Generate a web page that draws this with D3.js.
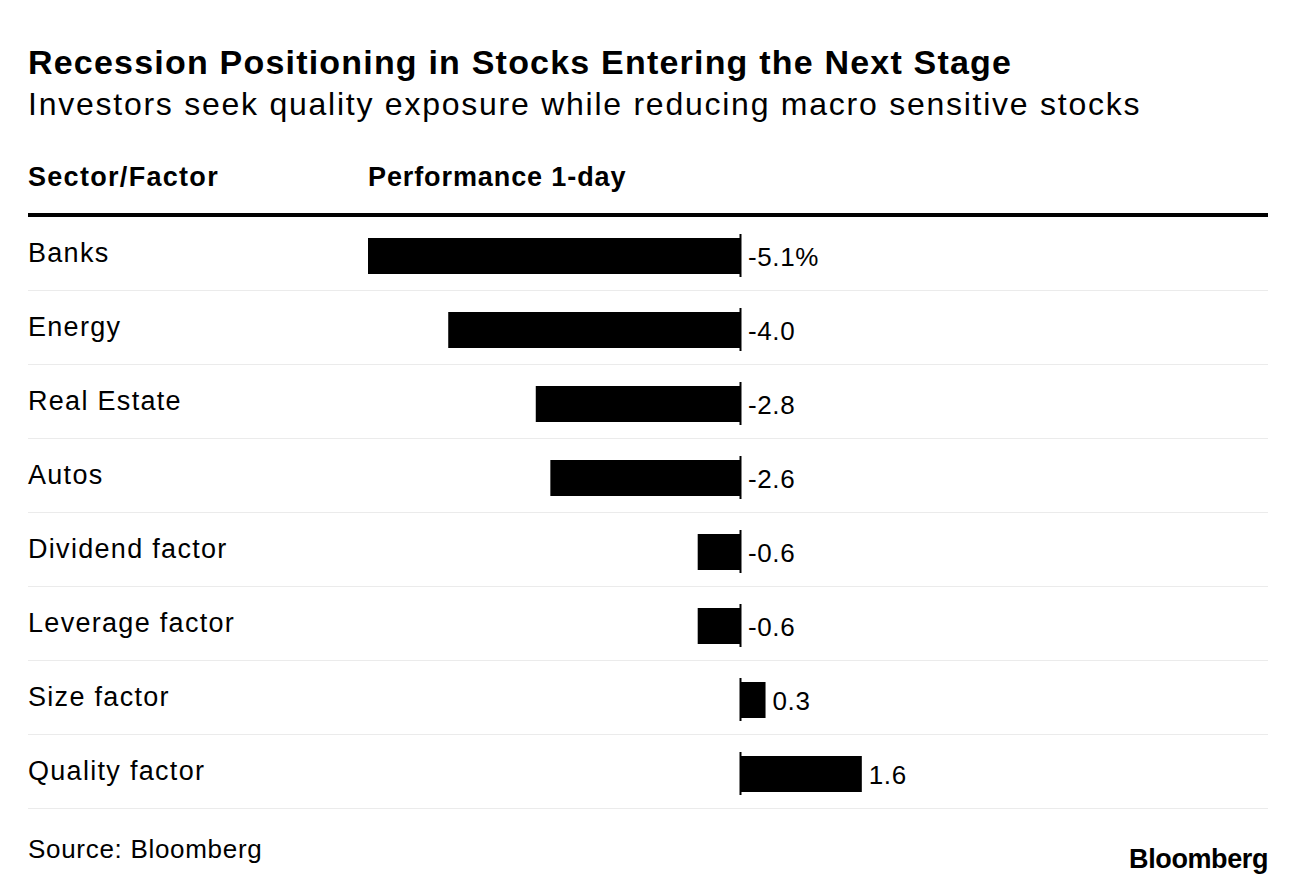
<!DOCTYPE html>
<html>
<head>
<meta charset="utf-8">
<script src="https://cdn.jsdelivr.net/npm/d3@7"></script>
<style>
  body { margin: 0; background: #fff; }
  svg text { font-family: "Liberation Sans", Arial, sans-serif; fill: #000; }
</style>
</head>
<body>
<svg id="chart" width="1296" height="888"></svg>
<script>
// data
const categories = ["Banks", "Energy", "Real Estate", "Autos", "Dividend factor", "Leverage factor", "Size factor", "Quality factor"];
const values = [-5.1, -4.0, -2.8, -2.6, -0.58, -0.58, 0.35, 1.67];
const valueLabels = ["-5.1%", "-4.0", "-2.8", "-2.6", "-0.6", "-0.6", "0.3", "1.6"];

const svg = d3.select('#chart');
const left = 28, right = 1268;

// titles
svg.append('text')
  .attr('x', left).attr('y', 74)
  .style('font-size', '34px').style('font-weight', 'bold')
  .style('letter-spacing', '1.2px')
  .text('Recession Positioning in Stocks Entering the Next Stage');

svg.append('text')
  .attr('x', left).attr('y', 115)
  .style('font-size', '32px')
  .style('letter-spacing', '1.75px')
  .text('Investors seek quality exposure while reducing macro sensitive stocks');

// column headers
svg.append('text')
  .attr('x', left).attr('y', 186)
  .style('font-size', '27px').style('font-weight', 'bold')
  .style('letter-spacing', '1.3px')
  .text('Sector/Factor');
svg.append('text')
  .attr('x', 368).attr('y', 186)
  .style('font-size', '27px').style('font-weight', 'bold')
  .style('letter-spacing', '0.9px')
  .text('Performance 1-day');

svg.append('rect')
  .attr('x', left).attr('y', 213)
  .attr('width', right - left).attr('height', 4)
  .attr('fill', '#000');

// scales
const x = d3.scaleLinear()
  .domain([-5.1, 0])
  .range([368, 740]);

const y = d3.scaleBand()
  .domain(categories)
  .range([217, 809]);

const rows = svg.selectAll('.row')
  .data(categories)
  .enter().append('g')
  .attr('class', 'row')
  .attr('transform', d => `translate(0,${y(d)})`);

// row separators
rows.append('line')
  .attr('x1', left).attr('x2', right)
  .attr('y1', y.bandwidth() - 0.5).attr('y2', y.bandwidth() - 0.5)
  .attr('stroke', '#ebebeb')
  .attr('stroke-width', 1);

rows.append('text')
  .attr('x', left).attr('y', 45)
  .style('font-size', '27px')
  .style('letter-spacing', '1.3px')
  .text(d => d);

rows.append('rect')
  .attr('x', (d, i) => x(Math.min(0, values[i])))
  .attr('y', 21)
  .attr('width', (d, i) => Math.abs(x(values[i]) - x(0)))
  .attr('height', 36)
  .attr('fill', '#000');

// zero tick
rows.append('line')
  .attr('x1', x(0) + 0.5).attr('x2', x(0) + 0.5)
  .attr('y1', 17).attr('y2', 60)
  .attr('stroke', '#000')
  .attr('stroke-width', 2);

rows.append('text')
  .attr('x', (d, i) => values[i] < 0 ? x(0) + 8 : x(values[i]) + 7)
  .attr('y', 49)
  .style('font-size', '26px')
  .style('letter-spacing', '0.6px')
  .text((d, i) => valueLabels[i]);

// footer
svg.append('text')
  .attr('x', left).attr('y', 858)
  .style('font-size', '26px')
  .style('letter-spacing', '0.7px')
  .text('Source: Bloomberg');

svg.append('text')
  .attr('x', right).attr('y', 868)
  .attr('text-anchor', 'end')
  .style('font-size', '27px').style('font-weight', 'bold')
  .style('letter-spacing', '-0.4px')
  .text('Bloomberg');
</script>
</body>
</html>
